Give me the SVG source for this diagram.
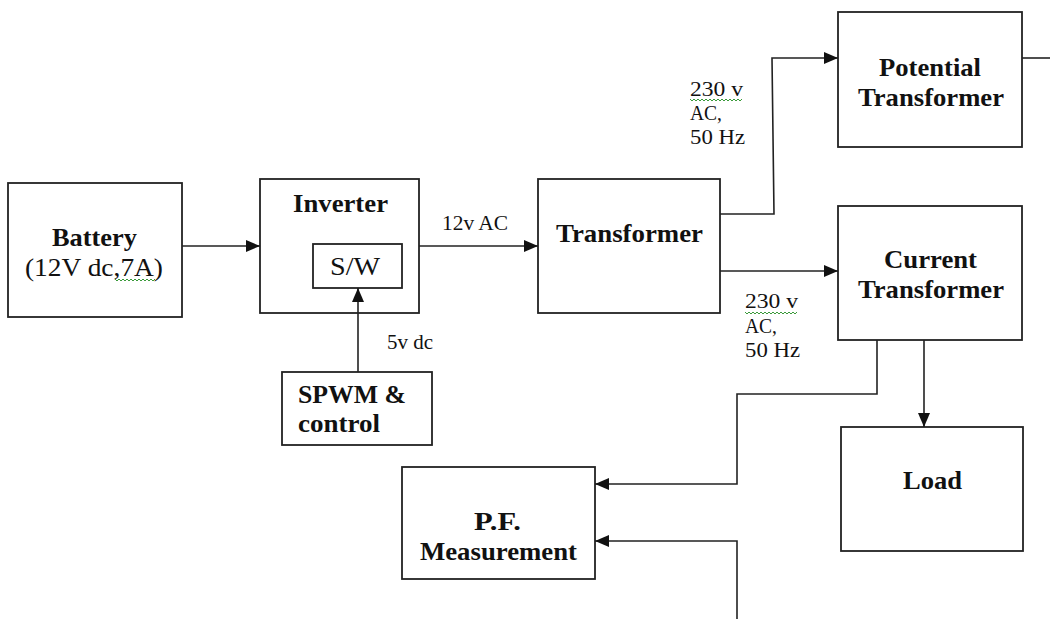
<svg xmlns="http://www.w3.org/2000/svg" width="1050" height="619" viewBox="0 0 1050 619">
<style>
.box{fill:#fff;stroke:#222;stroke-width:1.8}
.ln{fill:none;stroke:#222;stroke-width:1.6}
text{font-family:"Liberation Serif","Times New Roman",serif;fill:#111}
.b{font-weight:bold;font-size:26px}
.r{font-size:25px}
.e{font-size:20px}
.sq{fill:none;stroke:#3a9a3a;stroke-width:1}
</style>
<defs>
<marker id="ah" markerUnits="userSpaceOnUse" markerWidth="14" markerHeight="12" refX="14" refY="6" orient="auto">
<path d="M0,0 L14,6 L0,12 z" fill="#111"/>
</marker>
</defs>
<rect width="1050" height="619" fill="#fff"/>
<g id="battery">
<rect class="box" x="8" y="183" width="174" height="134"/>
<text class="b" x="52" y="246" textLength="85" lengthAdjust="spacingAndGlyphs">Battery</text>
<text class="r" x="25" y="276" textLength="138" lengthAdjust="spacingAndGlyphs">(12V dc,7A)</text>
<path class="sq" d="M115,279 l2,2 l2,-2 l2,2 l2,-2 l2,2 l2,-2 l2,2 l2,-2 l2,2 l2,-2 l2,2 l2,-2 l2,2 l2,-2 l2,2 l2,-2 l2,2 l2,-2 l2,2 l2,-2"/>
</g>
<g id="inverter">
<rect class="box" x="260" y="179" width="159" height="134"/>
<text class="b" x="293" y="212" textLength="95" lengthAdjust="spacingAndGlyphs">Inverter</text>
</g>
<g id="sw">
<rect class="box" x="313" y="244" width="89" height="44"/>
<text class="r" x="330" y="275" textLength="50" lengthAdjust="spacingAndGlyphs">S/W</text>
</g>
<g id="spwm">
<rect class="box" x="282" y="372" width="150" height="73"/>
<text class="b" x="298" y="403" textLength="108" lengthAdjust="spacingAndGlyphs">SPWM &amp;</text>
<text class="b" x="298" y="432" textLength="82" lengthAdjust="spacingAndGlyphs">control</text>
</g>
<g id="transformer">
<rect class="box" x="538" y="179" width="182" height="134"/>
<text class="b" x="556" y="242" textLength="147" lengthAdjust="spacingAndGlyphs">Transformer</text>
</g>
<g id="potential-transformer">
<rect class="box" x="838" y="12" width="184" height="135"/>
<text class="b" x="879" y="76" textLength="102" lengthAdjust="spacingAndGlyphs">Potential</text>
<text class="b" x="858" y="106" textLength="146" lengthAdjust="spacingAndGlyphs">Transformer</text>
</g>
<g id="current-transformer">
<rect class="box" x="838" y="206" width="184" height="134"/>
<text class="b" x="884" y="268" textLength="93" lengthAdjust="spacingAndGlyphs">Current</text>
<text class="b" x="858" y="298" textLength="146" lengthAdjust="spacingAndGlyphs">Transformer</text>
</g>
<g id="load">
<rect class="box" x="841" y="427" width="182" height="124"/>
<text class="b" x="903" y="489" textLength="59" lengthAdjust="spacingAndGlyphs">Load</text>
</g>
<g id="pf-measurement">
<rect class="box" x="402" y="467" width="193" height="112"/>
<text class="b" x="474" y="530" textLength="47" lengthAdjust="spacingAndGlyphs">P.F.</text>
<text class="b" x="420" y="560" textLength="157" lengthAdjust="spacingAndGlyphs">Measurement</text>
</g>
<g id="connectors">
<path class="ln" d="M182,246 H260" marker-end="url(#ah)"/>
<path class="ln" d="M358,372 V288" marker-end="url(#ah)"/>
<path class="ln" d="M419,246 H538" marker-end="url(#ah)"/>
<path class="ln" d="M720,214 H774 L772,58 H838" marker-end="url(#ah)"/>
<path class="ln" d="M720,271 H838" marker-end="url(#ah)"/>
<path class="ln" d="M1022,58 H1050"/>
<path class="ln" d="M877,340 V394 H737 V484 H595" marker-end="url(#ah)"/>
<path class="ln" d="M924,340 V427" marker-end="url(#ah)"/>
<path class="ln" d="M737,619 V541 H595" marker-end="url(#ah)"/>
<text class="e" x="442" y="230" textLength="66" lengthAdjust="spacingAndGlyphs">12v AC</text>
<text class="e" x="387" y="349" textLength="46" lengthAdjust="spacingAndGlyphs">5v dc</text>
<text class="e" x="690" y="96" textLength="53" lengthAdjust="spacingAndGlyphs">230 v</text>
<text class="e" x="690" y="120" textLength="32" lengthAdjust="spacingAndGlyphs">AC,</text>
<text class="e" x="690" y="144" textLength="55" lengthAdjust="spacingAndGlyphs">50 Hz</text>
<path class="sq" d="M690,99 l2,2 l2,-2 l2,2 l2,-2 l2,2 l2,-2 l2,2 l2,-2 l2,2 l2,-2 l2,2 l2,-2 l2,2 l2,-2 l2,2 l2,-2 l2,2 l2,-2 l2,2 l2,-2 l2,2 l2,-2 l2,2 l2,-2 l2,2 l2,-2"/>
<text class="e" x="745" y="308" textLength="53" lengthAdjust="spacingAndGlyphs">230 v</text>
<text class="e" x="745" y="333" textLength="32" lengthAdjust="spacingAndGlyphs">AC,</text>
<text class="e" x="745" y="357" textLength="55" lengthAdjust="spacingAndGlyphs">50 Hz</text>
<path class="sq" d="M745,312 l2,2 l2,-2 l2,2 l2,-2 l2,2 l2,-2 l2,2 l2,-2 l2,2 l2,-2 l2,2 l2,-2 l2,2 l2,-2 l2,2 l2,-2 l2,2 l2,-2 l2,2 l2,-2 l2,2 l2,-2 l2,2 l2,-2 l2,2 l2,-2"/>
</g>
</svg>
